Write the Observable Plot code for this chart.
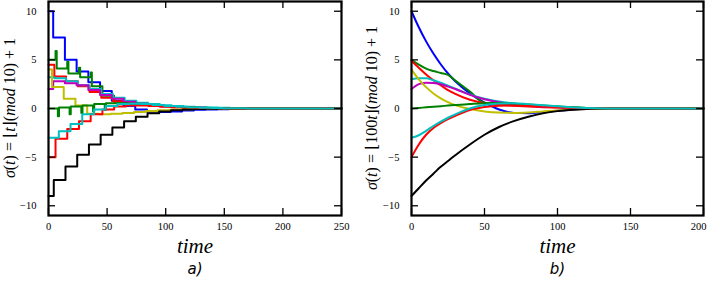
<!DOCTYPE html>
<html>
<head>
<meta charset="utf-8">
<script src="https://cdn.jsdelivr.net/npm/d3@7"></script>
<script src="https://cdn.jsdelivr.net/npm/@observablehq/plot@0.6"></script>
<style>
  html, body { margin: 0; padding: 0; background: #fff; }
  #fig { position: relative; width: 708px; height: 281px; overflow: hidden; }
  #fig svg { position: absolute; top: 0; }
</style>
</head>
<body>
<div id="fig"></div>
<script>
// ---------------- data ----------------
const seriesNames = ["blue", "green5", "red5", "cyan3", "magenta", "yellow", "black", "green0", "redm5", "cyanm3"];
const seriesColors = ["#0000ff", "#008000", "#ff0000", "#00bfbf", "#bf00bf", "#bfbf00", "#000000", "#008000", "#ff0000", "#00bfbf"];

// panel a) : piecewise-constant (steps every 10 time units), first step time per series
const stepPeriod = 10;
const phaseA = [4, 6, 5, 5, 4, 3, 4.5, 8, 6, 8.8];
const levelsA = [
  [10, 7.3, 5.0, 3.8, 2.7, 1.8, 0.8, 0.25, -0.1, -0.3, -0.35, -0.3, -0.2, -0.14, -0.1, -0.07, -0.05, -0.03, -0.02, -0.01, 0],
  [5, 4.1, 3.6, 3.2, 2.3, 1.3, 0.7, 0.55, 0.45, 0.35, 0.26, 0.18, 0.12, 0.08, 0.05, 0.03, 0.02, 0.01, 0],
  [4.5, 3.3, 2.8, 2.3, 1.7, 1.1, 0.75, 0.5, 0.38, 0.28, 0.2, 0.14, 0.1, 0.07, 0.05, 0.03, 0.02, 0.01, 0],
  [3.2, 3.1, 2.8, 2.4, 2.0, 1.5, 1.1, 0.8, 0.6, 0.45, 0.33, 0.25, 0.18, 0.13, 0.1, 0.07, 0.05, 0.04, 0.03, 0.02, 0.01],
  [2.0, 2.8, 2.6, 2.4, 1.9, 1.4, 1.0, 0.7, 0.5, 0.35, 0.24, 0.16, 0.11, 0.07, 0.04, 0.02, 0.01, 0],
  [4.0, 2.2, 1.0, 0.3, -0.55, -0.6, -0.55, -0.45, -0.35, -0.26, -0.18, -0.12, -0.08, -0.05, -0.03, -0.01, 0],
  [-9, -7.35, -5.95, -4.75, -3.7, -2.7, -1.95, -1.3, -0.85, -0.5, -0.3, -0.18, -0.1, -0.06, -0.03, -0.01, 0],
  [0, 0.1, 0.2, 0.3, 0.45, 0.55, 0.55, 0.5, 0.42, 0.32, 0.22, 0.15, 0.1, 0.06, 0.04, 0.02, 0.01, 0],
  [-5, -3.1, -2.1, -1.3, -0.6, -0.1, 0.2, 0.3, 0.3, 0.25, 0.2, 0.14, 0.1, 0.06, 0.04, 0.02, 0.01, 0],
  [-3, -2.35, -1.6, -0.6, -0.1, 0.25, 0.45, 0.5, 0.45, 0.35, 0.25, 0.18, 0.12, 0.08, 0.05, 0.03, 0.02, 0.01, 0]
];
// short transient values right at the switching instants (spikes)
const spikesA = [
  [], [5.9, 4.8, 4.2, 3.7], [], [], [], [], [], [-0.8, -0.6, -0.45, -0.3, -0.15], [], []
];

// panel b) : smooth curves
const timeB = [0, 5, 10, 15, 20, 25, 30, 40, 50, 60, 70, 80, 90, 100, 110, 120, 135, 150, 200];
const valuesB = [
  [10, 8.35, 6.9, 5.65, 4.55, 3.6, 2.8, 1.55, 0.6, -0.1, -0.45, -0.5, -0.38, -0.22, -0.12, -0.05, -0.01, 0, 0],
  [5, 4.5, 4.1, 3.85, 3.65, 3.45, 2.88, 1.74, 0.6, 0.5, 0.42, 0.33, 0.25, 0.17, 0.1, 0.05, 0.01, 0, 0],
  [4.9, 4.2, 3.5, 2.9, 2.4, 1.9, 1.5, 0.9, 0.55, 0.38, 0.28, 0.2, 0.14, 0.09, 0.05, 0.03, 0.01, 0, 0],
  [3.0, 3.1, 3.1, 2.9, 2.65, 2.35, 2.05, 1.45, 1.0, 0.72, 0.52, 0.37, 0.25, 0.16, 0.1, 0.05, 0.01, 0, 0],
  [2.0, 2.5, 2.65, 2.62, 2.5, 2.25, 2.0, 1.4, 0.95, 0.65, 0.45, 0.3, 0.2, 0.12, 0.07, 0.03, 0.01, 0, 0],
  [4.0, 3.0, 2.2, 1.55, 1.05, 0.65, 0.35, -0.05, -0.3, -0.42, -0.45, -0.4, -0.3, -0.2, -0.11, -0.05, -0.01, 0, 0],
  [-9, -8.2, -7.4, -6.7, -6.0, -5.4, -4.8, -3.7, -2.7, -1.9, -1.3, -0.85, -0.5, -0.27, -0.13, -0.05, -0.01, 0, 0],
  [0, 0.06, 0.12, 0.18, 0.24, 0.3, 0.36, 0.47, 0.55, 0.56, 0.5, 0.4, 0.3, 0.2, 0.12, 0.06, 0.01, 0, 0],
  [-5, -3.7, -2.7, -2.0, -1.5, -1.1, -0.75, -0.15, 0.15, 0.28, 0.3, 0.26, 0.2, 0.13, 0.07, 0.03, 0.01, 0, 0],
  [-3, -2.75, -2.3, -1.8, -1.35, -0.95, -0.6, 0.0, 0.35, 0.52, 0.55, 0.45, 0.33, 0.22, 0.13, 0.06, 0.01, 0, 0]
];

const xTicksA = [0, 50, 100, 150, 200, 250];
const xTicksB = [0, 50, 100, 150, 200];
const yTicks = [-10, -5, 0, 5, 10];
const xLabel = "time";
const panelLabels = ["a)", "b)"];

// ---------------- build tables ----------------
const endA = 250;
const rowsA = [];
seriesNames.forEach((name, i) => {
  const lv = levelsA[i], sp = spikesA[i];
  rowsA.push({s: name, t: 0, v: lv[0]});
  for (let k = 1; k < lv.length; k++) {
    const T = phaseA[i] + stepPeriod * (k - 1);
    if (sp[k - 1] !== undefined) {
      rowsA.push({s: name, t: T, v: sp[k - 1]});
      rowsA.push({s: name, t: T + 1, v: lv[k]});
    } else {
      rowsA.push({s: name, t: T, v: lv[k]});
    }
  }
  rowsA.push({s: name, t: endA, v: lv[lv.length - 1]});
});
const rowsB = [];
seriesNames.forEach((name, i) => {
  timeB.forEach((t, j) => rowsB.push({s: name, t, v: valuesB[i][j]}));
});

// ---------------- chart ----------------
const serif = "Liberation Serif, DejaVu Serif, serif";

function panel({rows, curve, xDomain, xTicks, left, mLeft, mRight, label, lastDx}) {
  const W = 354, H = 281, mTop = 1, mBottom = 66;
  const pw = W - mLeft - mRight, ph = H - mTop - mBottom;
  const marks = [];
  seriesNames.forEach((name, i) => {
    marks.push(Plot.line(rows.filter(r => r.s === name), {
      x: "t", y: "v", stroke: seriesColors[i], strokeWidth: 2, curve
    }));
  });
  marks.push(
    Plot.tickX(xTicks, {x: d => d, insetTop: ph - 7, strokeWidth: 1.3}),
    Plot.tickX(xTicks, {x: d => d, insetBottom: ph - 7, strokeWidth: 1.3}),
    Plot.tickY(yTicks, {y: d => d, insetRight: pw - 7, strokeWidth: 1.3}),
    Plot.tickY(yTicks, {y: d => d, insetLeft: pw - 7, strokeWidth: 1.3}),
    Plot.frame({strokeWidth: 2.2}),
    Plot.axisX(xTicks.slice(0, -1), {tickSize: 0, tickPadding: 7, label: null, fontSize: 10.5, fontFamily: serif}),
    Plot.axisX(xTicks.slice(-1), {tickSize: 0, tickPadding: 7, label: null, fontSize: 10.5, fontFamily: serif, dx: lastDx}),
    Plot.axisY(yTicks, {tickSize: 0, tickPadding: 12, label: null, fontSize: 10.5, fontFamily: serif}),
    Plot.text([xLabel], {frameAnchor: "bottom", dy: 37, text: d => d, fontSize: 21, fontStyle: "italic", fontFamily: serif}),
    Plot.text([label], {frameAnchor: "bottom", dy: 58, text: d => d, fontSize: 15, fontStyle: "italic", fontFamily: "DejaVu Sans, sans-serif"})
  );
  const svg = Plot.plot({
    width: W, height: H,
    marginLeft: mLeft, marginRight: mRight, marginTop: mTop, marginBottom: mBottom,
    x: {domain: xDomain},
    y: {domain: [-11, 11]},
    style: {fontFamily: serif, fontSize: "10.5px", color: "#000", background: "transparent", overflow: "visible"},
    marks
  });
  svg.style.left = left + "px";
  return svg;
}

function addYLabel(svg, x, y, inner) {
  const t = d3.select(svg).append("text")
    .attr("transform", `translate(${x},${y}) rotate(-90)`)
    .attr("text-anchor", "middle")
    .attr("font-family", serif)
    .attr("font-size", 16)
    .attr("fill", "#000");
  const parts = [["σ", true], ["(", false], ["t", true], [") = ⌊", false]]
    .concat(inner)
    .concat([["⌋(", false], ["mod", true], [" 10) + 1", false]]);
  parts.forEach(([s, it]) => t.append("tspan").attr("font-style", it ? "italic" : "normal").text(s));
}

const fig = document.getElementById("fig");
const svgA = panel({rows: rowsA, curve: "step-after", xDomain: [0, 250], xTicks: xTicksA, left: 0, mLeft: 48, mRight: 13, label: panelLabels[0], lastDx: 0});
const svgB = panel({rows: rowsB, curve: "monotone-x", xDomain: [0, 200], xTicks: xTicksB, left: 354, mLeft: 57, mRight: 5, label: panelLabels[1], lastDx: -5});
fig.appendChild(svgA);
fig.appendChild(svgB);
addYLabel(svgA, 15, 108, [["t", true]]);
addYLabel(svgB, 23, 108, [["100", false], ["t", true]]);
</script>
</body>
</html>
